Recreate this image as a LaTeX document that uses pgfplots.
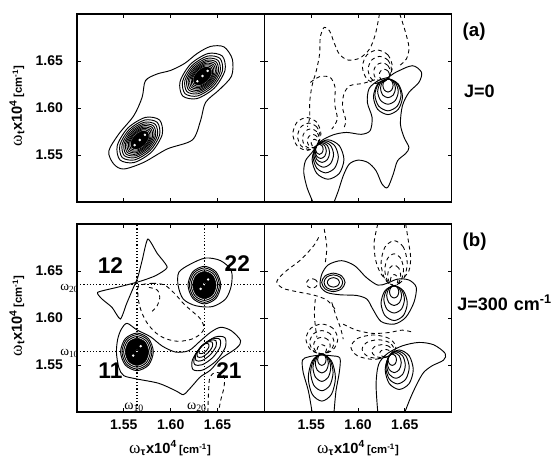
\documentclass[border=0pt]{standalone}
\usepackage{fontspec}
\setmainfont{Liberation Sans}
\newfontfamily\symf{Liberation Serif}
\usepackage{pgfplots}
\pgfplotsset{compat=1.18}
\pgfplotsset{
  panel/.style={
    scale only axis, width=140.5pt, height=141pt, anchor=south west,
    xmin=1.5, xmax=1.7, ymin=1.5, ymax=1.7,
    xtick={1.55,1.60,1.65}, ytick={1.55,1.60,1.65},
    tick align=inside, major tick length=3pt,
    axis line style={line width=0.9pt}, tick style={line width=0.6pt, black},
    clip mode=individual,
    /pgf/number format/fixed, /pgf/number format/fixed zerofill,
    /pgf/number format/precision=2, /pgf/number format/assume math mode=true,
    tick label style={font=\fontsize{10.5}{12}\selectfont\bfseries},
    xticklabel style={yshift=-2pt}, yticklabel style={xshift=-7pt},
  },
  pos/.style={smooth cycle, line width=0.7pt, black},
  neg/.style={smooth cycle, line width=0.65pt, black, dash pattern=on 3pt off 2.5pt},
  posopen/.style={smooth, line width=0.7pt, black},
  negopen/.style={smooth, line width=0.65pt, black, dash pattern=on 3pt off 2.5pt},
  core/.style={smooth cycle, draw=black, fill=black},
  hole/.style={only marks, mark=*, mark size=0.7pt, white},
  grid line/.style={line width=0.9pt, dash pattern=on 0.9pt off 1.5pt},
}
\newcommand\wlab[1]{{\fontsize{13}{14}\selectfont\symf ω}\textsubscript{\fontsize{8}{9}\selectfont\bfseries #1}{\fontsize{11}{12}\selectfont\bfseries x10\textsuperscript{4}}\,{\fontsize{8.5}{9}\selectfont\bfseries [cm\textsuperscript{-1}]}}
\begin{document}
\begin{tikzpicture}
\useasboundingbox (0,0) rectangle (419.25pt,343.5pt);

% ---------------- (a) left: J=0, absorptive
\begin{axis}[panel, at={(57.75pt,192pt)}, xticklabels={}]
\addplot[pos] coordinates {(1.6658,1.6521) (1.6569,1.6650) (1.6426,1.6655) (1.6283,1.6580) (1.6150,1.6475) (1.6000,1.6400) (1.5856,1.6362) (1.5731,1.6291) (1.5695,1.6113) (1.5606,1.5918) (1.5446,1.5723) (1.5339,1.5539) (1.5392,1.5404) (1.5499,1.5351) (1.5713,1.5422) (1.5963,1.5564) (1.6230,1.5659) (1.6319,1.5865) (1.6373,1.6060) (1.6520,1.6195) (1.6650,1.6340)};
% lower lobe
\addplot[pos] coordinates {(1.5882,1.5872) (1.5730,1.5900) (1.5543,1.5787) (1.5430,1.5600) (1.5458,1.5448) (1.5610,1.5420) (1.5797,1.5533) (1.5910,1.5720)};
\addplot[pos] coordinates {(1.5857,1.5847) (1.5723,1.5872) (1.5558,1.5772) (1.5458,1.5607) (1.5483,1.5473) (1.5617,1.5448) (1.5782,1.5548) (1.5882,1.5713)};
\addplot[pos] coordinates {(1.5836,1.5826) (1.5717,1.5848) (1.5570,1.5760) (1.5482,1.5613) (1.5504,1.5494) (1.5623,1.5472) (1.5770,1.5560) (1.5858,1.5707)};
\addplot[pos] coordinates {(1.5818,1.5808) (1.5712,1.5828) (1.5581,1.5749) (1.5502,1.5618) (1.5522,1.5512) (1.5628,1.5492) (1.5759,1.5571) (1.5838,1.5702)};
\addplot[pos] coordinates {(1.5803,1.5793) (1.5708,1.5811) (1.5590,1.5740) (1.5519,1.5622) (1.5537,1.5527) (1.5632,1.5509) (1.5750,1.5580) (1.5821,1.5698)};
\addplot[pos] coordinates {(1.5789,1.5779) (1.5704,1.5795) (1.5599,1.5731) (1.5535,1.5626) (1.5551,1.5541) (1.5636,1.5525) (1.5741,1.5589) (1.5805,1.5694)};
\addplot[pos] coordinates {(1.5776,1.5766) (1.5700,1.5780) (1.5606,1.5724) (1.5550,1.5630) (1.5564,1.5554) (1.5640,1.5540) (1.5734,1.5596) (1.5790,1.5690)};
\addplot[pos] coordinates {(1.5764,1.5754) (1.5697,1.5767) (1.5613,1.5717) (1.5563,1.5633) (1.5576,1.5566) (1.5643,1.5553) (1.5727,1.5603) (1.5777,1.5687)};
\addplot[core] coordinates {(1.5753,1.5743) (1.5694,1.5754) (1.5621,1.5709) (1.5576,1.5636) (1.5587,1.5577) (1.5646,1.5566) (1.5719,1.5611) (1.5764,1.5684)};
\addplot[hole] coordinates {(1.5615,1.5605) (1.5670,1.5660) (1.5725,1.5715)};
% upper lobe
\addplot[pos] coordinates {(1.6552,1.6552) (1.6400,1.6580) (1.6213,1.6467) (1.6100,1.6280) (1.6128,1.6128) (1.6280,1.6100) (1.6467,1.6213) (1.6580,1.6400)};
\addplot[pos] coordinates {(1.6527,1.6527) (1.6393,1.6552) (1.6228,1.6452) (1.6128,1.6287) (1.6153,1.6153) (1.6287,1.6128) (1.6452,1.6228) (1.6552,1.6393)};
\addplot[pos] coordinates {(1.6506,1.6506) (1.6387,1.6528) (1.6240,1.6440) (1.6152,1.6293) (1.6174,1.6174) (1.6293,1.6152) (1.6440,1.6240) (1.6528,1.6387)};
\addplot[pos] coordinates {(1.6488,1.6488) (1.6382,1.6508) (1.6251,1.6429) (1.6172,1.6298) (1.6192,1.6192) (1.6298,1.6172) (1.6429,1.6251) (1.6508,1.6382)};
\addplot[pos] coordinates {(1.6473,1.6473) (1.6378,1.6491) (1.6260,1.6420) (1.6189,1.6302) (1.6207,1.6207) (1.6302,1.6189) (1.6420,1.6260) (1.6491,1.6378)};
\addplot[pos] coordinates {(1.6459,1.6459) (1.6374,1.6475) (1.6269,1.6411) (1.6205,1.6306) (1.6221,1.6221) (1.6306,1.6205) (1.6411,1.6269) (1.6475,1.6374)};
\addplot[pos] coordinates {(1.6446,1.6446) (1.6370,1.6460) (1.6276,1.6404) (1.6220,1.6310) (1.6234,1.6234) (1.6310,1.6220) (1.6404,1.6276) (1.6460,1.6370)};
\addplot[pos] coordinates {(1.6434,1.6434) (1.6367,1.6447) (1.6283,1.6397) (1.6233,1.6313) (1.6246,1.6246) (1.6313,1.6233) (1.6397,1.6283) (1.6447,1.6367)};
\addplot[core] coordinates {(1.6423,1.6423) (1.6364,1.6434) (1.6291,1.6389) (1.6246,1.6316) (1.6257,1.6257) (1.6316,1.6246) (1.6389,1.6291) (1.6434,1.6364)};
\addplot[hole] coordinates {(1.6285,1.6285) (1.6340,1.6340) (1.6395,1.6395)};
\end{axis}

% ---------------- (a) right: J=0, dispersive
\begin{axis}[panel, at={(198.25pt,192pt)}, xticklabels={}, yticklabels={}]
\addplot[posopen] coordinates {(1.5519,1.4998) (1.5456,1.5154) (1.5421,1.5314) (1.5439,1.5438) (1.5509,1.5527) (1.5600,1.5645) (1.5737,1.5715) (1.5878,1.5740) (1.6035,1.5720) (1.6130,1.5760) (1.6150,1.5900) (1.6100,1.6059) (1.6120,1.6210) (1.6230,1.6300) (1.6320,1.6325) (1.6404,1.6380) (1.6580,1.6450) (1.6678,1.6379) (1.6650,1.6272) (1.6544,1.6166) (1.6474,1.6024) (1.6453,1.5829) (1.6492,1.5687) (1.6544,1.5580) (1.6509,1.5516) (1.6422,1.5438) (1.6376,1.5296) (1.6316,1.5154) (1.6257,1.5190) (1.6193,1.5332) (1.6106,1.5420) (1.6000,1.5445) (1.5906,1.5403) (1.5842,1.5278) (1.5790,1.5119) (1.5744,1.4998)};
% lower peak, positive
\addplot[pos] coordinates {(1.5850,1.5452) (1.5800,1.5600) (1.5680,1.5662) (1.5560,1.5600) (1.5510,1.5452) (1.5560,1.5304) (1.5680,1.5242) (1.5800,1.5304)};
\addplot[pos] coordinates {(1.5790,1.5480) (1.5750,1.5600) (1.5655,1.5650) (1.5560,1.5600) (1.5520,1.5480) (1.5560,1.5360) (1.5655,1.5310) (1.5750,1.5360)};
\addplot[pos] coordinates {(1.5739,1.5505) (1.5708,1.5600) (1.5634,1.5640) (1.5560,1.5600) (1.5529,1.5505) (1.5560,1.5410) (1.5634,1.5370) (1.5708,1.5410)};
\addplot[pos] coordinates {(1.5697,1.5526) (1.5674,1.5600) (1.5617,1.5631) (1.5560,1.5600) (1.5537,1.5526) (1.5560,1.5452) (1.5617,1.5421) (1.5674,1.5452)};
\addplot[pos] coordinates {(1.5662,1.5543) (1.5644,1.5600) (1.5602,1.5623) (1.5560,1.5600) (1.5542,1.5543) (1.5560,1.5486) (1.5602,1.5463) (1.5644,1.5486)};
\addplot[pos] coordinates {(1.5628,1.5561) (1.5616,1.5600) (1.5588,1.5616) (1.5560,1.5600) (1.5548,1.5561) (1.5560,1.5522) (1.5588,1.5506) (1.5616,1.5522)};
% lower peak, negative
\addplot[neg] coordinates {(1.5604,1.5724) (1.5560,1.5848) (1.5454,1.5899) (1.5348,1.5848) (1.5304,1.5724) (1.5348,1.5600) (1.5454,1.5549) (1.5560,1.5600)};
\addplot[neg] coordinates {(1.5595,1.5699) (1.5560,1.5798) (1.5475,1.5839) (1.5390,1.5798) (1.5355,1.5699) (1.5390,1.5600) (1.5475,1.5559) (1.5560,1.5600)};
\addplot[neg] coordinates {(1.5586,1.5674) (1.5560,1.5748) (1.5496,1.5779) (1.5432,1.5748) (1.5406,1.5674) (1.5432,1.5600) (1.5496,1.5569) (1.5560,1.5600)};
\addplot[neg] coordinates {(1.5578,1.5649) (1.5560,1.5698) (1.5518,1.5719) (1.5476,1.5698) (1.5458,1.5649) (1.5476,1.5600) (1.5518,1.5579) (1.5560,1.5600)};
\addplot[neg] coordinates {(1.5570,1.5628) (1.5560,1.5656) (1.5535,1.5668) (1.5510,1.5656) (1.5500,1.5628) (1.5510,1.5600) (1.5535,1.5588) (1.5560,1.5600)};
% upper peak, positive
\addplot[pos] coordinates {(1.6475,1.6120) (1.6430,1.6254) (1.6320,1.6310) (1.6210,1.6254) (1.6165,1.6120) (1.6210,1.5986) (1.6320,1.5930) (1.6430,1.5986)};
\addplot[pos] coordinates {(1.6460,1.6140) (1.6419,1.6260) (1.6320,1.6310) (1.6221,1.6260) (1.6180,1.6140) (1.6221,1.6020) (1.6320,1.5970) (1.6419,1.6020)};
\addplot[pos] coordinates {(1.6430,1.6175) (1.6398,1.6270) (1.6320,1.6310) (1.6242,1.6270) (1.6210,1.6175) (1.6242,1.6080) (1.6320,1.6040) (1.6398,1.6080)};
\addplot[pos] coordinates {(1.6400,1.6210) (1.6377,1.6281) (1.6320,1.6310) (1.6263,1.6281) (1.6240,1.6210) (1.6263,1.6139) (1.6320,1.6110) (1.6377,1.6139)};
\addplot[pos] coordinates {(1.6375,1.6240) (1.6359,1.6289) (1.6320,1.6310) (1.6281,1.6289) (1.6265,1.6240) (1.6281,1.6191) (1.6320,1.6170) (1.6359,1.6191)};
% upper peak, negative
\addplot[neg] coordinates {(1.6367,1.6437) (1.6320,1.6564) (1.6207,1.6617) (1.6094,1.6564) (1.6047,1.6437) (1.6094,1.6310) (1.6207,1.6257) (1.6320,1.6310)};
\addplot[neg] coordinates {(1.6357,1.6409) (1.6320,1.6508) (1.6232,1.6549) (1.6144,1.6508) (1.6107,1.6409) (1.6144,1.6310) (1.6232,1.6270) (1.6320,1.6310)};
\addplot[neg] coordinates {(1.6346,1.6381) (1.6320,1.6452) (1.6256,1.6481) (1.6192,1.6452) (1.6166,1.6381) (1.6192,1.6310) (1.6256,1.6281) (1.6320,1.6310)};
\addplot[neg] coordinates {(1.6336,1.6352) (1.6320,1.6394) (1.6281,1.6412) (1.6242,1.6394) (1.6226,1.6352) (1.6242,1.6310) (1.6281,1.6292) (1.6320,1.6310)};
% open negative contours
\addplot[negopen] coordinates {(1.6229,1.7000) (1.6186,1.6787) (1.6123,1.6627) (1.6018,1.6531) (1.5895,1.6510) (1.5800,1.6574) (1.5744,1.6698) (1.5695,1.6823) (1.5639,1.6858) (1.5597,1.6752) (1.5590,1.6574) (1.5555,1.6397) (1.5509,1.6237) (1.5484,1.6059) (1.5484,1.5900) (1.5460,1.5800)};
\addplot[negopen] coordinates {(1.6446,1.7000) (1.6502,1.6823) (1.6544,1.6645) (1.6516,1.6521) (1.6430,1.6440)};
\addplot[negopen] coordinates {(1.5491,1.6272) (1.5590,1.6333) (1.5702,1.6326) (1.5755,1.6219) (1.5751,1.6042) (1.5779,1.5882) (1.5720,1.5775)};
\addplot[negopen] coordinates {(1.6180,1.6300) (1.6053,1.6262) (1.5913,1.6237) (1.5849,1.6148) (1.5835,1.6006) (1.5870,1.5864) (1.5842,1.5770)};
\end{axis}

% ---------------- (b) left: J=300, absorptive
\begin{axis}[panel, at={(57.75pt,34.5pt)}]
\addplot[pos] coordinates {(1.5535,1.5943) (1.5642,1.5872) (1.5784,1.5801) (1.5909,1.5702) (1.6052,1.5638) (1.6194,1.5653) (1.6312,1.5752) (1.6426,1.5848) (1.6533,1.5901) (1.6647,1.5865) (1.6747,1.5759) (1.6704,1.5681) (1.6533,1.5564) (1.6426,1.5447) (1.6319,1.5376) (1.6248,1.5298) (1.6184,1.5227) (1.6134,1.5184) (1.6052,1.5227) (1.5873,1.5305) (1.5642,1.5351) (1.5499,1.5387) (1.5446,1.5475) (1.5421,1.5635) (1.5435,1.5777) (1.5474,1.5883)};
% peak 11
\addplot[pos] coordinates {(1.5815,1.5640) (1.5764,1.5781) (1.5640,1.5840) (1.5516,1.5781) (1.5465,1.5640) (1.5516,1.5499) (1.5640,1.5440) (1.5764,1.5499)};
\addplot[pos] coordinates {(1.5800,1.5640) (1.5753,1.5769) (1.5640,1.5823) (1.5527,1.5769) (1.5480,1.5640) (1.5527,1.5511) (1.5640,1.5457) (1.5753,1.5511)};
\addplot[pos] coordinates {(1.5782,1.5640) (1.5740,1.5755) (1.5640,1.5803) (1.5540,1.5755) (1.5498,1.5640) (1.5540,1.5525) (1.5640,1.5477) (1.5740,1.5525)};
\addplot[core] coordinates {(1.5765,1.5640) (1.5728,1.5743) (1.5640,1.5785) (1.5552,1.5743) (1.5515,1.5640) (1.5552,1.5537) (1.5640,1.5495) (1.5728,1.5537)};
\addplot[hole] coordinates {(1.5600,1.5600) (1.5640,1.5650) (1.5680,1.5700)};
% peak 22
\addplot[pos] coordinates {(1.6087,1.6486) (1.6212,1.6574) (1.6373,1.6638) (1.6533,1.6610) (1.6647,1.6504) (1.6647,1.6344) (1.6586,1.6202) (1.6444,1.6121) (1.6266,1.6131) (1.6134,1.6202) (1.6080,1.6344)};
\addplot[pos] coordinates {(1.6535,1.6350) (1.6484,1.6491) (1.6360,1.6550) (1.6236,1.6491) (1.6185,1.6350) (1.6236,1.6209) (1.6360,1.6150) (1.6484,1.6209)};
\addplot[pos] coordinates {(1.6520,1.6350) (1.6473,1.6479) (1.6360,1.6533) (1.6247,1.6479) (1.6200,1.6350) (1.6247,1.6221) (1.6360,1.6167) (1.6473,1.6221)};
\addplot[pos] coordinates {(1.6502,1.6350) (1.6460,1.6465) (1.6360,1.6513) (1.6260,1.6465) (1.6218,1.6350) (1.6260,1.6235) (1.6360,1.6187) (1.6460,1.6235)};
\addplot[core] coordinates {(1.6485,1.6350) (1.6448,1.6453) (1.6360,1.6495) (1.6272,1.6453) (1.6235,1.6350) (1.6272,1.6247) (1.6360,1.6205) (1.6448,1.6247)};
\addplot[hole] coordinates {(1.6320,1.6310) (1.6360,1.6360) (1.6400,1.6410)};
% peak 21
\addplot[pos] coordinates {(1.6578,1.5792) (1.6473,1.5797) (1.6330,1.5700) (1.6233,1.5557) (1.6238,1.5452) (1.6343,1.5447) (1.6486,1.5544) (1.6583,1.5687)};
\addplot[pos] coordinates {(1.6524,1.5774) (1.6443,1.5778) (1.6330,1.5700) (1.6253,1.5588) (1.6256,1.5506) (1.6338,1.5503) (1.6450,1.5580) (1.6528,1.5693)};
\addplot[pos] coordinates {(1.6482,1.5760) (1.6419,1.5762) (1.6330,1.5700) (1.6269,1.5612) (1.6270,1.5548) (1.6334,1.5547) (1.6422,1.5608) (1.6484,1.5697)};
\addplot[pos] coordinates {(1.6443,1.5743) (1.6395,1.5745) (1.6330,1.5700) (1.6285,1.5635) (1.6287,1.5587) (1.6335,1.5585) (1.6400,1.5630) (1.6445,1.5695)};
\addplot[pos] coordinates {(1.6404,1.5724) (1.6373,1.5728) (1.6330,1.5700) (1.6303,1.5658) (1.6306,1.5626) (1.6338,1.5623) (1.6380,1.5650) (1.6408,1.5693)};
% cross peak 12
\addplot[smooth cycle, tension=0.35, line width=0.7pt] coordinates {(1.5756,1.6840) (1.5856,1.6688) (1.5963,1.6539) (1.5838,1.6450) (1.5695,1.6397) (1.5570,1.6362) (1.5428,1.6326) (1.5221,1.6273) (1.5267,1.6202) (1.5374,1.6113) (1.5463,1.5989) (1.5528,1.6149) (1.5588,1.6291) (1.5649,1.6433) (1.5695,1.6610)};
% negative contours
\addplot[neg] coordinates {(1.5660,1.6344) (1.5802,1.6369) (1.5934,1.6351) (1.6041,1.6262) (1.6141,1.6149) (1.6230,1.6071) (1.6319,1.5989) (1.6355,1.5901) (1.6326,1.5837) (1.6230,1.5777) (1.6087,1.5752) (1.5955,1.5777) (1.5848,1.5837) (1.5756,1.5936) (1.5695,1.6050) (1.5660,1.6167) (1.5649,1.6273)};
\addplot[negopen] coordinates {(1.5767,1.6326) (1.5856,1.6298) (1.5884,1.6220) (1.5856,1.6131) (1.5802,1.6071)};
\addplot[negopen] coordinates {(1.6397,1.4998) (1.6405,1.5227) (1.6419,1.5369) (1.6479,1.5422) (1.6569,1.5387) (1.6569,1.5262) (1.6533,1.5121) (1.6512,1.4998)};
% transition frequencies
\addplot[grid line] coordinates {(1.564,1.5) (1.564,1.7)};
\addplot[grid line] coordinates {(1.636,1.5) (1.636,1.7)};
\addplot[grid line] coordinates {(1.5,1.564) (1.7,1.564)};
\addplot[grid line] coordinates {(1.5,1.636) (1.7,1.636)};
\node[font=\fontsize{17}{18}\selectfont\bfseries] at (axis cs:1.5357,1.6557) {12};
\node[font=\fontsize{17}{18}\selectfont\bfseries] at (axis cs:1.6711,1.6574) {22};
\node[font=\fontsize{17}{18}\selectfont\bfseries] at (axis cs:1.5357,1.5440) {11};
\node[font=\fontsize{17}{18}\selectfont\bfseries] at (axis cs:1.6622,1.5440) {21};
\node[anchor=east, inner sep=0pt, font=\fontsize{10}{10}\selectfont\symf] at (axis cs:1.5025,1.632) {ω\textsubscript{20}};
\node[anchor=east, inner sep=0pt, font=\fontsize{10}{10}\selectfont\symf] at (axis cs:1.5025,1.562) {ω\textsubscript{10}};
\node[anchor=south, inner sep=0.5pt, font=\fontsize{10.5}{11}\selectfont\symf] at (axis cs:1.561,1.499) {ω\textsubscript{10}};
\node[anchor=south, inner sep=0.5pt, font=\fontsize{10.5}{11}\selectfont\symf] at (axis cs:1.628,1.499) {ω\textsubscript{20}};
\end{axis}

% ---------------- (b) right: J=300, dispersive
\begin{axis}[panel, at={(198.25pt,34.5pt)}, yticklabels={}]
% S-shaped contour round the upper peaks
\addplot[pos] coordinates {(1.5614,1.6468) (1.5684,1.6567) (1.5825,1.6610) (1.5965,1.6556) (1.6088,1.6432) (1.6211,1.6350) (1.6306,1.6368) (1.6422,1.6414) (1.6544,1.6404) (1.6622,1.6326) (1.6597,1.6166) (1.6509,1.6006) (1.6386,1.5935) (1.6246,1.5963) (1.6158,1.6095) (1.6095,1.6201) (1.5983,1.6240) (1.5807,1.6247) (1.5667,1.6272) (1.5597,1.6343)};
\addplot[pos] coordinates {(1.5802,1.6379) (1.5783,1.6414) (1.5737,1.6429) (1.5691,1.6414) (1.5672,1.6379) (1.5691,1.6344) (1.5737,1.6329) (1.5783,1.6344)};
\addplot[pos] coordinates {(1.5837,1.6379) (1.5808,1.6436) (1.5737,1.6459) (1.5666,1.6436) (1.5637,1.6379) (1.5666,1.6322) (1.5737,1.6299) (1.5808,1.6322)};
\addplot[pos] coordinates {(1.5862,1.6379) (1.5825,1.6448) (1.5737,1.6477) (1.5649,1.6448) (1.5612,1.6379) (1.5649,1.6310) (1.5737,1.6281) (1.5825,1.6310)};
% upper right peak
\addplot[pos] coordinates {(1.6436,1.6278) (1.6421,1.6324) (1.6386,1.6343) (1.6351,1.6324) (1.6336,1.6278) (1.6351,1.6232) (1.6386,1.6213) (1.6421,1.6232)};
\addplot[pos] coordinates {(1.6466,1.6238) (1.6443,1.6312) (1.6386,1.6343) (1.6329,1.6312) (1.6306,1.6238) (1.6329,1.6164) (1.6386,1.6133) (1.6443,1.6164)};
\addplot[pos] coordinates {(1.6496,1.6198) (1.6464,1.6301) (1.6386,1.6343) (1.6308,1.6301) (1.6276,1.6198) (1.6308,1.6095) (1.6386,1.6053) (1.6464,1.6095)};
\addplot[pos] coordinates {(1.6526,1.6158) (1.6485,1.6289) (1.6386,1.6343) (1.6287,1.6289) (1.6246,1.6158) (1.6287,1.6027) (1.6386,1.5973) (1.6485,1.6027)};
\addplot[neg] coordinates {(1.6426,1.6403) (1.6414,1.6445) (1.6386,1.6463) (1.6358,1.6445) (1.6346,1.6403) (1.6358,1.6361) (1.6386,1.6343) (1.6414,1.6361)};
\addplot[neg] coordinates {(1.6456,1.6453) (1.6435,1.6531) (1.6386,1.6563) (1.6337,1.6531) (1.6316,1.6453) (1.6337,1.6375) (1.6386,1.6343) (1.6435,1.6375)};
\addplot[neg] coordinates {(1.6486,1.6513) (1.6457,1.6633) (1.6386,1.6683) (1.6315,1.6633) (1.6286,1.6513) (1.6315,1.6393) (1.6386,1.6343) (1.6457,1.6393)};
\addplot[neg] coordinates {(1.6526,1.6583) (1.6485,1.6753) (1.6386,1.6823) (1.6287,1.6753) (1.6246,1.6583) (1.6287,1.6413) (1.6386,1.6343) (1.6485,1.6413)};
% lower left peak
\addplot[posopen] coordinates {(1.5510,1.4998) (1.5470,1.5225) (1.5415,1.5420) (1.5407,1.5552) (1.5474,1.5587) (1.5597,1.5605) (1.5720,1.5598) (1.5807,1.5573) (1.5800,1.5420) (1.5765,1.5225) (1.5744,1.4998)};
\addplot[pos] coordinates {(1.5659,1.5556) (1.5646,1.5598) (1.5614,1.5616) (1.5582,1.5598) (1.5569,1.5556) (1.5582,1.5514) (1.5614,1.5496) (1.5646,1.5514)};
\addplot[pos] coordinates {(1.5684,1.5516) (1.5663,1.5587) (1.5614,1.5616) (1.5565,1.5587) (1.5544,1.5516) (1.5565,1.5445) (1.5614,1.5416) (1.5663,1.5445)};
\addplot[pos] coordinates {(1.5709,1.5471) (1.5681,1.5574) (1.5614,1.5616) (1.5547,1.5574) (1.5519,1.5471) (1.5547,1.5368) (1.5614,1.5326) (1.5681,1.5368)};
\addplot[pos] coordinates {(1.5734,1.5421) (1.5699,1.5559) (1.5614,1.5616) (1.5529,1.5559) (1.5494,1.5421) (1.5529,1.5283) (1.5614,1.5226) (1.5699,1.5283)};
\addplot[pos] coordinates {(1.5759,1.5366) (1.5717,1.5543) (1.5614,1.5616) (1.5511,1.5543) (1.5469,1.5366) (1.5511,1.5189) (1.5614,1.5116) (1.5717,1.5189)};
\addplot[neg] coordinates {(1.5664,1.5666) (1.5649,1.5701) (1.5614,1.5716) (1.5579,1.5701) (1.5564,1.5666) (1.5579,1.5631) (1.5614,1.5616) (1.5649,1.5631)};
\addplot[neg] coordinates {(1.5704,1.5706) (1.5678,1.5770) (1.5614,1.5796) (1.5550,1.5770) (1.5524,1.5706) (1.5550,1.5642) (1.5614,1.5616) (1.5678,1.5642)};
\addplot[neg] coordinates {(1.5744,1.5741) (1.5706,1.5829) (1.5614,1.5866) (1.5522,1.5829) (1.5484,1.5741) (1.5522,1.5653) (1.5614,1.5616) (1.5706,1.5653)};
\addplot[neg] coordinates {(1.5784,1.5776) (1.5734,1.5889) (1.5614,1.5936) (1.5494,1.5889) (1.5444,1.5776) (1.5494,1.5663) (1.5614,1.5616) (1.5734,1.5663)};
% lower right peak
\addplot[posopen] coordinates {(1.6211,1.4998) (1.6193,1.5296) (1.6221,1.5509) (1.6316,1.5623) (1.6474,1.5704) (1.6650,1.5740) (1.6808,1.5715) (1.6931,1.5623) (1.6913,1.5552) (1.6790,1.5491) (1.6700,1.5420) (1.6630,1.5300) (1.6560,1.5150) (1.6500,1.4998)};
\addplot[pos] coordinates {(1.6411,1.5556) (1.6398,1.5598) (1.6366,1.5616) (1.6334,1.5598) (1.6321,1.5556) (1.6334,1.5514) (1.6366,1.5496) (1.6398,1.5514)};
\addplot[pos] coordinates {(1.6462,1.5524) (1.6440,1.5598) (1.6387,1.5629) (1.6334,1.5598) (1.6312,1.5524) (1.6334,1.5450) (1.6387,1.5419) (1.6440,1.5450)};
\addplot[pos] coordinates {(1.6505,1.5499) (1.6476,1.5598) (1.6405,1.5639) (1.6334,1.5598) (1.6305,1.5499) (1.6334,1.5400) (1.6405,1.5359) (1.6476,1.5400)};
\addplot[pos] coordinates {(1.6547,1.5474) (1.6510,1.5598) (1.6422,1.5649) (1.6334,1.5598) (1.6297,1.5474) (1.6334,1.5350) (1.6422,1.5299) (1.6510,1.5350)};
\addplot[pos] coordinates {(1.6590,1.5450) (1.6546,1.5598) (1.6440,1.5660) (1.6334,1.5598) (1.6290,1.5450) (1.6334,1.5302) (1.6440,1.5240) (1.6546,1.5302)};
\addplot[neg] coordinates {(1.6352,1.5626) (1.6334,1.5654) (1.6292,1.5666) (1.6250,1.5654) (1.6232,1.5626) (1.6250,1.5598) (1.6292,1.5586) (1.6334,1.5598)};
\addplot[neg] coordinates {(1.6366,1.5647) (1.6334,1.5696) (1.6256,1.5717) (1.6178,1.5696) (1.6146,1.5647) (1.6178,1.5598) (1.6256,1.5577) (1.6334,1.5598)};
\addplot[neg] coordinates {(1.6384,1.5669) (1.6334,1.5740) (1.6214,1.5769) (1.6094,1.5740) (1.6044,1.5669) (1.6094,1.5598) (1.6214,1.5569) (1.6334,1.5598)};
\addplot[neg] coordinates {(1.6404,1.5690) (1.6334,1.5782) (1.6164,1.5820) (1.5994,1.5782) (1.5924,1.5690) (1.5994,1.5598) (1.6164,1.5560) (1.6334,1.5598)};
% remaining negative contours
\addplot[neg] coordinates {(1.5569,1.6368) (1.5551,1.6403) (1.5509,1.6418) (1.5467,1.6403) (1.5449,1.6368) (1.5467,1.6333) (1.5509,1.6318) (1.5551,1.6333)};
\addplot[negopen] coordinates {(1.5579,1.6858) (1.5527,1.6769) (1.5386,1.6617) (1.5228,1.6496) (1.5133,1.6389) (1.5193,1.6318) (1.5351,1.6279) (1.5527,1.6244) (1.5667,1.6191) (1.5755,1.6095)};
\addplot[negopen] coordinates {(1.5639,1.6947) (1.5667,1.6752) (1.5649,1.6581)};
\addplot[negopen] coordinates {(1.6211,1.7000) (1.6172,1.6805) (1.6186,1.6627) (1.6236,1.6485) (1.6306,1.6397)};
\addplot[negopen] coordinates {(1.6509,1.7000) (1.6537,1.6823) (1.6562,1.6645) (1.6544,1.6503) (1.6474,1.6414)};
\addplot[negopen] coordinates {(1.5842,1.5935) (1.5983,1.5871) (1.6158,1.5836) (1.6334,1.5846) (1.6474,1.5871) (1.6597,1.5846)};
\addplot[negopen] coordinates {(1.5544,1.6201) (1.5534,1.6059) (1.5544,1.5917) (1.5562,1.5793)};
\addplot[negopen] coordinates {(1.5720,1.6166) (1.5765,1.6024) (1.5814,1.5892) (1.5842,1.5775)};
\end{axis}

% ---------------- labels
\node[rotate=90] at (12.75pt,264pt) {\wlab{t}};
\node[rotate=90] at (12.75pt,106.5pt) {\wlab{t}};
\node at (127.5pt,7.5pt) {\wlab{τ}};
\node at (268.5pt,7.5pt) {\wlab{τ}};
\node[anchor=west, font=\fontsize{14}{16}\selectfont\bfseries] at (343.5pt,319.5pt) {(a)};
\node[anchor=west, font=\fontsize{13.5}{16}\selectfont\bfseries] at (344.5pt,275.25pt) {J=0};
\node[anchor=west, font=\fontsize{14}{16}\selectfont\bfseries] at (343.5pt,162pt) {(b)};
\node[anchor=west, font=\fontsize{13.5}{16}\selectfont\bfseries] at (339.5pt,116.25pt) {J=300\,\,cm\textsuperscript{-1}};
\end{tikzpicture}
\end{document}
